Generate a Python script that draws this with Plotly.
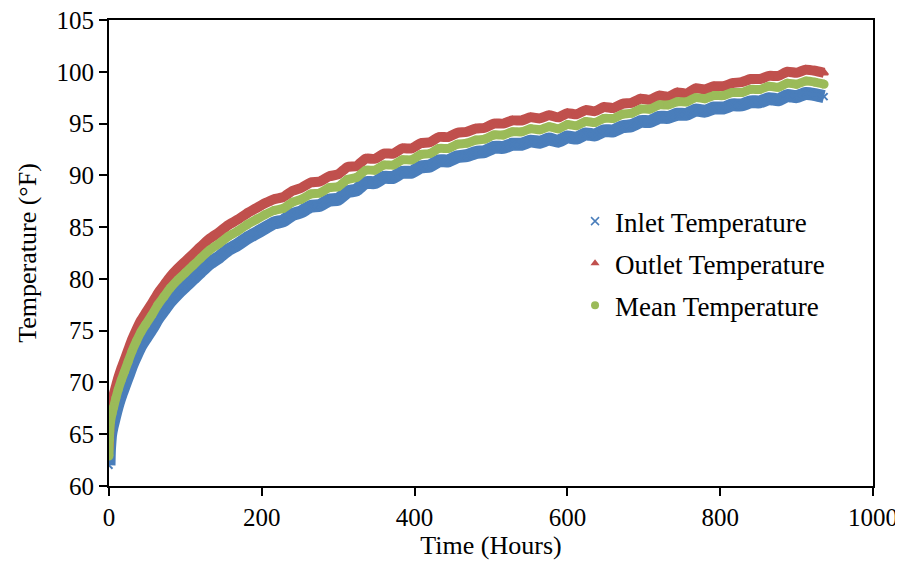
import plotly.graph_objects as go

time_hours = [0, 0.5, 1, 2, 4, 6, 9, 12, 16, 20, 25, 30, 36, 42, 48, 56, 64, 72, 80, 90,
              100, 110, 120, 132, 144, 156, 168, 180, 192, 204,
              216, 228, 240, 252, 264, 276, 288, 300, 312, 324, 336, 348, 360, 372, 384, 396,
              408, 420, 432, 444, 456, 468, 480, 492, 504, 516, 528, 540, 552, 564, 576, 588,
              600, 612, 624, 636, 648, 660, 672, 684, 696, 708, 720, 732, 744, 756, 768, 780,
              792, 804, 816, 828, 840, 852, 864, 876, 888, 900, 912, 924, 936]

inlet_temp = [62.0, 63.4, 64.0, 64.9, 65.7, 66.3, 67.2, 68.0, 68.9, 69.7, 70.7, 71.7, 72.7, 73.6, 74.3,
              75.2, 76.2, 77.0, 77.8, 78.6, 79.3, 80.0, 80.7, 81.5, 82.1, 82.8, 83.3, 83.9, 84.4, 84.9,
              85.4, 85.6, 86.2, 86.5, 87.0, 87.1, 87.6, 87.7, 88.4, 88.6,
              89.3, 89.3, 89.8, 89.8, 90.3, 90.3, 90.8, 90.9, 91.4, 91.4,
              91.8, 91.9, 92.2, 92.3, 92.7, 92.7, 93.0, 93.0, 93.3, 93.2,
              93.5, 93.3, 93.7, 93.6, 94.0, 93.9, 94.3, 94.3, 94.7, 94.8,
              95.2, 95.2, 95.6, 95.6, 95.9, 95.9, 96.3, 96.2, 96.5, 96.5,
              96.8, 96.8, 97.1, 97.1, 97.4, 97.3, 97.7, 97.6, 97.9, 97.8, 97.6]

outlet_temp = [63.7, 65.8, 66.6, 67.4, 68.2, 68.8, 69.6, 70.4, 71.3, 72.1, 73.1, 74.1, 75.1, 76.0, 76.7,
               77.6, 78.6, 79.4, 80.2, 81.0, 81.7, 82.4, 83.1, 83.9, 84.5, 85.2, 85.7, 86.3, 86.8, 87.3,
               87.7, 87.9, 88.5, 88.8, 89.3, 89.4, 89.9, 90.1, 90.8, 90.9,
               91.6, 91.6, 92.1, 92.1, 92.6, 92.6, 93.1, 93.2, 93.7, 93.7,
               94.1, 94.2, 94.5, 94.6, 95.0, 95.0, 95.3, 95.3, 95.6, 95.5,
               95.8, 95.6, 96.0, 95.9, 96.3, 96.2, 96.6, 96.5, 96.9, 97.0,
               97.4, 97.3, 97.7, 97.6, 98.0, 97.9, 98.4, 98.3, 98.6, 98.6,
               98.9, 99.0, 99.3, 99.3, 99.6, 99.6, 100.0, 99.9, 100.2, 100.1, 99.9]

mean_temp = [62.9, 64.5, 65.3, 66.2, 67.0, 67.6, 68.5, 69.3, 70.2, 71.0, 72.0, 73.0, 74.0, 74.9, 75.6,
             76.5, 77.5, 78.3, 79.1, 79.9, 80.6, 81.3, 82.0, 82.8, 83.4, 84.1, 84.6, 85.2, 85.7, 86.2,
             86.6, 86.8, 87.4, 87.7, 88.2, 88.3, 88.8, 88.9, 89.6, 89.8,
             90.5, 90.5, 91.0, 91.0, 91.5, 91.5, 92.0, 92.1, 92.6, 92.6,
             93.0, 93.1, 93.4, 93.5, 93.9, 93.9, 94.2, 94.2, 94.5, 94.4,
             94.7, 94.5, 94.9, 94.8, 95.2, 95.1, 95.5, 95.5, 95.9, 96.0,
             96.4, 96.4, 96.8, 96.8, 97.1, 97.1, 97.5, 97.4, 97.7, 97.7,
             98.0, 98.0, 98.3, 98.3, 98.6, 98.5, 98.9, 98.8, 99.1, 99.0, 98.8]

series_names = ["Inlet Temperature", "Outlet Temperature", "Mean Temperature"]
series_values = [inlet_temp, outlet_temp, mean_temp]
colors = ["#4A7EBB", "#C0504D", "#9BBB59"]
band_widths = [13, 10, 9]
symbols = ["x-thin", "triangle-up", "circle"]
legend_sizes = [8, 8, 8]

FONT = "Liberation Serif"
fig = go.Figure()

for name, vals, col, w, sym in zip(series_names, series_values, colors, band_widths, symbols):
    fig.add_trace(go.Scatter(
        x=time_hours, y=vals, mode="lines+markers", name=name, showlegend=False,
        line=dict(color=col, width=w, shape="spline", smoothing=0.6),
        marker=dict(symbol=sym, size=7, color=col, line=dict(color=col, width=2)),
    ))

for i, (name, col, sym, s) in enumerate(zip(series_names, colors, symbols, legend_sizes)):
    fig.add_trace(go.Scatter(
        x=[None], y=[None], mode="markers", name=name, legendgroup=f"g{i}",
        marker=dict(symbol=sym, size=s, color=col, line=dict(color=col, width=1.5 if sym == "x-thin" else 0)),
    ))

# page body adds an 8px offset; figure sized/margined so the plot box lands at the reference pixels
fig.update_layout(
    width=895, height=555,
    margin=dict(l=101, r=30, t=12, b=77),
    paper_bgcolor="white", plot_bgcolor="white",
    font=dict(family=FONT, size=25, color="black"),
    showlegend=True,
    legend=dict(x=0.61, y=0.62, xanchor="left", yanchor="top",
                font=dict(family=FONT, size=27, color="black"),
                bgcolor="rgba(0,0,0,0)", tracegroupgap=4, itemwidth=30),
    xaxis=dict(range=[0, 1000], dtick=200, tick0=0, showgrid=False, zeroline=False,
               showline=True, linecolor="black", linewidth=2, mirror=True, automargin=False,
               ticks="outside", ticklen=8, tickwidth=2, tickcolor="black",
               ticklabeloverflow="allow",
               tickfont=dict(family=FONT, size=25, color="black"),
               title=dict(text="Time (Hours)", font=dict(family=FONT, size=26, color="black"), standoff=4)),
    yaxis=dict(range=[60, 105], dtick=5, tick0=60, showgrid=False, zeroline=False,
               showline=True, linecolor="black", linewidth=2, mirror=True, automargin=False,
               ticks="outside", ticklen=8, tickwidth=2, tickcolor="black",
               ticklabeloverflow="allow",
               tickfont=dict(family=FONT, size=25, color="black"),
               title=dict(text="Temperature (°F)", font=dict(family=FONT, size=26, color="black"), standoff=12)),
)

fig.write_html("out.html")
